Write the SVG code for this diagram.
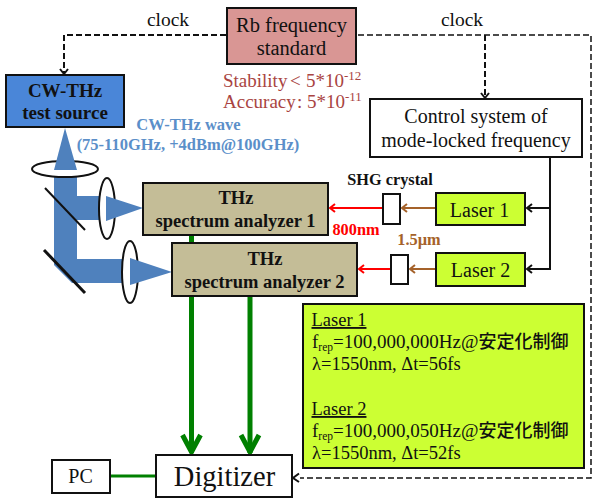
<svg xmlns="http://www.w3.org/2000/svg" width="592" height="500" viewBox="0 0 592 500">
<style>
text{font-family:"Liberation Serif","Noto Sans CJK JP",serif;fill:#111}
.b{font-weight:bold}
.box{stroke:#111;stroke-width:2}
.c{text-anchor:middle}
.dash{fill:none;stroke:#111;stroke-width:2;stroke-dasharray:6 3}
.thin{stroke-width:1.5}
.ah{fill:none;stroke-width:2}
.g{stroke:#008000;fill:none}
.beam{fill:#4f81bd}
.lens{fill:#fff;stroke:#111;stroke-width:2}
.red{fill:#a94442}
.wave{fill:#5b8fc9}
.jp{font-size:18px}
</style>
<rect width="592" height="500" fill="#fff"/>
<g id="beams">
<path class="beam" d="M54 170H77V196H100V220H77V259H124V283H72L54 265Z"/>
</g>
<g id="optics">
<ellipse class="lens" cx="65" cy="169" rx="33" ry="8"/>
<ellipse class="lens" cx="107" cy="208.500" rx="8" ry="30.500"/>
<ellipse class="lens" cx="130" cy="272" rx="8" ry="31"/>
<path d="M45 188L85 230" stroke="#111" stroke-width="2" fill="none"/>
<path d="M44 250L85 293" stroke="#111" stroke-width="3" fill="none"/>
</g>
<g id="beam-heads">
<path class="beam" d="M65 128L54 170H77Z"/>
<path class="beam" d="M106 196L143 208L106 221Z"/>
<path class="beam" d="M130 258L172 272L130 285Z"/>
</g>
<g id="connectors">
<path class="dash" d="M226 35H64V73"/>
<path class="ah" stroke="#111" d="M60 69L64 74L68 69"/>
<path class="dash thin" d="M358 35H591V478H300"/>
<path class="dash" d="M485 35V97"/>
<path class="ah" stroke="#111" d="M481 93L485 98L489 93"/>
<path stroke="#111" stroke-width="2" fill="none" d="M550 158V269H527M550 208H527"/>
<path class="ah" stroke="#111" d="M532 204L527 208L532 212M532 265L527 269L532 273"/>
<path stroke="#a5622a" stroke-width="2" fill="none" d="M435 208H402M435 269H410"/>
<path class="ah" stroke="#a5622a" d="M407 204L402 208L407 212M415 265L410 269L415 273"/>
<path stroke="#f00" stroke-width="2" fill="none" d="M382 208H330M390 269H359"/>
<path class="ah" stroke="#f00" d="M335 204L330 208L335 212M364 265L359 269L364 273"/>
<path class="g" stroke-width="5" d="M191.500 235V453M250 296V453"/>
<path class="g" stroke-width="5" d="M182.500 435L191.500 452L200.500 435M241 435L250 452L259 435"/>
<path class="g" stroke-width="3" d="M110 476H156"/>
</g>
<g id="rb">
<rect class="box" x="227" y="8" width="129" height="56" fill="#d99694"/>
<text class="c" x="291.500" y="32" font-size="20.500">Rb frequency</text>
<text class="c" x="291.500" y="55" font-size="20.500">standard</text>
</g>
<g id="stability">
<text x="223" y="87" font-size="19" class="red">Stability</text>
<text x="290" y="87" font-size="19" class="red">&lt;</text>
<text x="306" y="87" font-size="19" class="red">5*10<tspan font-size="13" dy="-7" class="red">-12</tspan></text>
<text x="223" y="108" font-size="19" class="red">Accuracy</text>
<text x="297" y="108" font-size="19" class="red">:</text>
<text x="307" y="108" font-size="19" class="red">5*10<tspan font-size="13" dy="-7" class="red">-11</tspan></text>
</g>
<text class="c" x="168" y="26" font-size="19.500">clock</text>
<text class="c" x="462" y="26" font-size="19.500">clock</text>
<g id="cw">
<rect class="box" x="6" y="75" width="118" height="52" fill="#4a86d8"/>
<text class="c b" x="65" y="97" font-size="19">CW-THz</text>
<text class="c b" x="65" y="119" font-size="19">test source</text>
</g>
<g id="wave">
<text class="c b wave" x="188.500" y="130" font-size="16.500">CW-THz wave</text>
<text class="c b wave" x="188" y="150" font-size="16.500">(75-110GHz, +4dBm@100GHz)</text>
</g>
<g id="control">
<rect class="box" x="370" y="99" width="212" height="58" fill="#fff"/>
<text class="c" x="476" y="123" font-size="20">Control system of</text>
<text class="c" x="476" y="147" font-size="20">mode-locked frequency</text>
</g>
<g id="analyzer1">
<rect class="box" x="143" y="183" width="185" height="52" fill="#c4bd97"/>
<text class="c b" x="236" y="204" font-size="18.500">THz</text>
<text class="c b" x="235.500" y="227" font-size="18.500">spectrum analyzer 1</text>
</g>
<g id="analyzer2">
<rect class="box" x="172" y="243" width="185" height="53" fill="#c4bd97"/>
<text class="c b" x="265" y="265" font-size="18.500">THz</text>
<text class="c b" x="264.500" y="288" font-size="18.500">spectrum analyzer 2</text>
</g>
<text class="c b" x="390" y="185" font-size="16.300">SHG crystal</text>
<rect id="shg1" class="box" x="383" y="194" width="17" height="30" fill="#fff"/>
<rect id="shg2" class="box" x="391" y="255" width="17" height="29" fill="#fff"/>
<text class="c b" x="356" y="235" font-size="16.300" style="fill:#f00">800nm</text>
<text class="c b" x="419" y="245" font-size="16.300" style="fill:#a5622a">1.5µm</text>
<g id="laser1">
<rect class="box" x="436" y="193" width="89" height="32" fill="#ccff33"/>
<text class="c" x="479.500" y="217" font-size="20">Laser 1</text>
</g>
<g id="laser2">
<rect class="box" x="436" y="253" width="89" height="33" fill="#ccff33"/>
<text class="c" x="480.500" y="277" font-size="20">Laser 2</text>
</g>
<g id="info">
<rect class="box" x="303" y="304" width="281" height="164" fill="#ccff33"/>
<text x="311.500" y="326" font-size="18.500" text-decoration="underline">Laser 1</text>
<text x="312" y="348" font-size="19">f<tspan font-size="11.500" dy="3">rep</tspan><tspan dy="-3">=100,000,000Hz@</tspan><tspan class="jp" font-weight="500">安定化制御</tspan></text>
<text x="312" y="370" font-size="18.500">λ=1550nm, Δt=56fs</text>
<text x="311.500" y="415" font-size="18.500" text-decoration="underline">Laser 2</text>
<text x="312" y="437" font-size="19">f<tspan font-size="11.500" dy="3">rep</tspan><tspan dy="-3">=100,000,050Hz@</tspan><tspan class="jp" font-weight="500">安定化制御</tspan></text>
<text x="312" y="459" font-size="18.500">λ=1550nm, Δt=52fs</text>
</g>
<g id="pc">
<rect class="box" x="52" y="460" width="58" height="33" fill="#fff"/>
<text class="c" x="80.500" y="483" font-size="20">PC</text>
</g>
<g id="digitizer">
<rect class="box" x="156" y="455" width="136" height="42" fill="#fff"/>
<text class="c" x="224.500" y="486" font-size="28.500">Digitizer</text>
</g>
<path class="ah" stroke="#111" d="M299 473.500L293 478L299 482"/>
</svg>
